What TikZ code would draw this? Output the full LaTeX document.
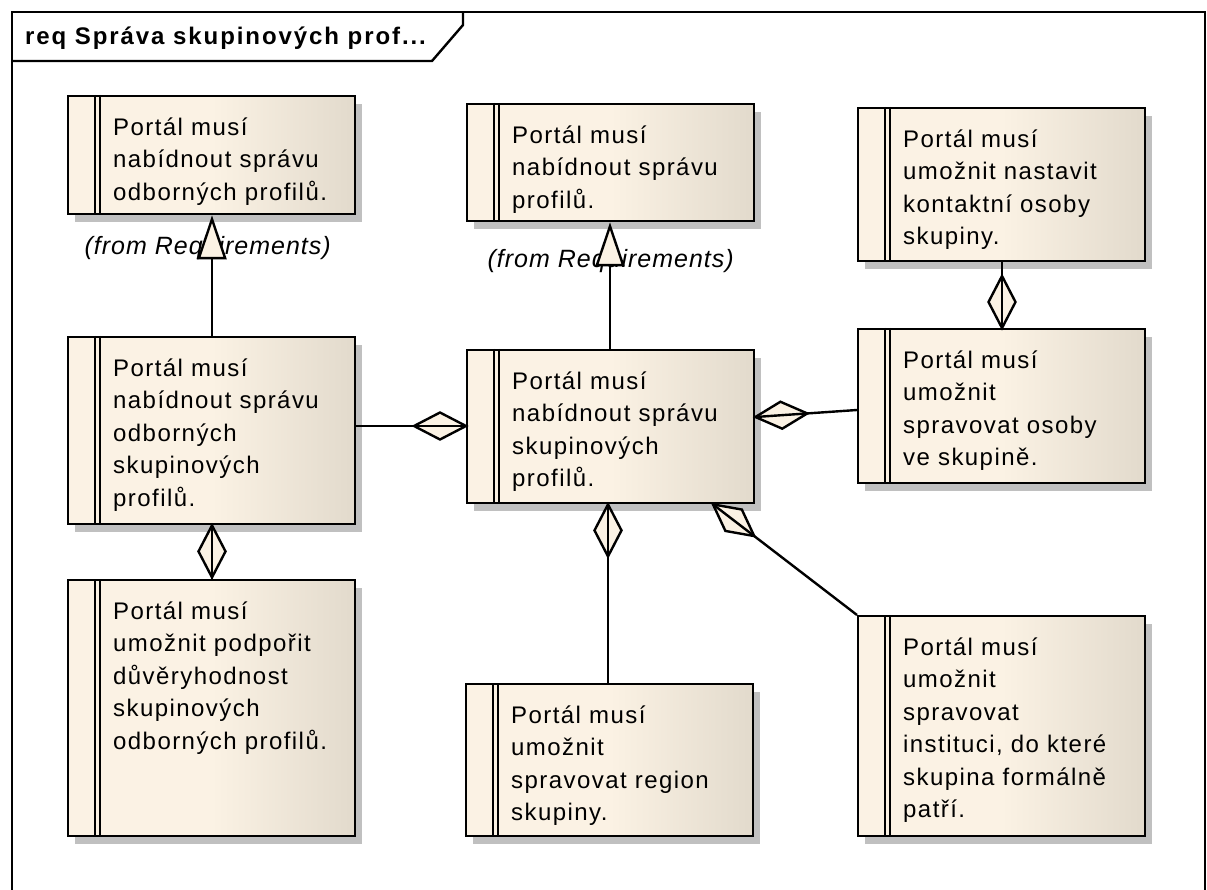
\documentclass[tikz,border=0pt]{standalone}
\usepackage{fontspec}
\setmainfont{Liberation Sans}[LetterSpace=6]
\newfontfamily\titlefont{Liberation Sans}[LetterSpace=8]
\newfontfamily\fromfont{Liberation Sans}[LetterSpace=4]
\usetikzlibrary{arrows.meta,shadows,calc}

\definecolor{reqlight}{RGB}{251,242,228}
\definecolor{reqdark}{RGB}{226,218,204}
\definecolor{shadowgray}{RGB}{192,192,192}

\tikzset{
  lw/.style={line width=2.4pt},
  reqbox/.style={draw, lw, anchor=north west, inner sep=0pt,
    minimum width=287pt, left color=reqlight, right color=reqdark,
    middle color=reqlight,
    drop shadow={shadow xshift=7pt, shadow yshift=-8pt, fill=shadowgray,
      opacity=1, draw=none}},
  reqtext/.style={anchor=north west, inner sep=0pt, align=left,
    font=\fontsize{24pt}{32.5pt}\selectfont},
  fromtext/.style={anchor=base, inner sep=0pt,
    font=\fromfont\itshape\fontsize{25pt}{30pt}\selectfont},
  diamondtip/.style={lw, fill=reqlight, line join=miter},
  gen/.style={lw, -{Triangle[fill=reqlight, length=44pt, width=29pt, line width=2.4pt]}},
}

% requirement element: box, double bar and its text
\newcommand{\reqel}[5]{%
  \node[reqbox, minimum height=#4pt] (#1) at (#2,#3) {};
  \draw[lw] ($(#1.north west)+(28,0)$) -- ($(#1.south west)+(28,0)$);
  \draw[lw] ($(#1.north west)+(33,0)$) -- ($(#1.south west)+(33,0)$);
  \node[reqtext] (#1-t) at ($(#1.north west)+(46,16)$) {\rule{0pt}{24pt}#5};
}

% aggregation: hollow diamond at the whole (#1), line through to the part (#2)
\newcommand{\aggregation}[2]{%
  \draw[diamondtip] (#1) -- ($(#1)!26pt!(#2)!13.5pt!90:(#2)$)
    -- ($(#1)!52pt!(#2)$) -- ($(#1)!26pt!(#2)!13.5pt!-90:(#2)$) -- cycle;
  \draw[lw] (#1) -- (#2);
}

\begin{document}
\begin{tikzpicture}[x=1pt, y=-1pt]
\useasboundingbox (0,0) rectangle (1207,890);
\clip (0,0) rectangle (1207,890);

% diagram frame with its name tab
\draw[lw] (12,900) -- (12,12) -- (1205,12) -- (1205,900);
\draw[lw] (12,61) -- (432,61) -- (463,25) -- (463,12);
\node[anchor=base west, inner sep=0pt, font=\titlefont\bfseries\fontsize{24pt}{28pt}\selectfont]
  (title) at (25,45) {req Správa skupinových prof...};

\reqel{A}{67}{95}{118}{Portál musí\\nabídnout správu\\odborných profilů.}
\reqel{B}{466}{103}{117}{Portál musí\\nabídnout správu\\profilů.}
\reqel{C}{857}{107}{153}{Portál musí\\umožnit nastavit\\kontaktní osoby\\skupiny.}
\reqel{D}{67}{336}{187}{Portál musí\\nabídnout správu\\odborných\\skupinových\\profilů.}
\reqel{E}{466}{349}{153}{Portál musí\\nabídnout správu\\skupinových\\profilů.}
\reqel{F}{857}{328}{154}{Portál musí\\umožnit\\spravovat osoby\\ve skupině.}
\reqel{G}{67}{579}{256}{Portál musí\\umožnit podpořit\\důvěryhodnost\\skupinových\\odborných profilů.}
\reqel{H}{465}{683}{152}{Portál musí\\umožnit\\spravovat region\\skupiny.}
\reqel{I}{857}{615}{220}{Portál musí\\umožnit\\spravovat\\instituci, do které\\skupina formálně\\patří.}

% package notes
\node[fromtext] (Afrom) at ($(A.south)+(-4,39)$) {(from Requirements)};
\node[fromtext] (Bfrom) at ($(B.south)+(0,45)$) {(from Requirements)};

% generalizations
\draw[gen] ($(D.north west)+(145,0)$) -- ($(A.south west)+(145,0)$);
\draw[gen] ($(E.north west)+(144,0)$) -- ($(B.south west)+(144,0)$);

% connector ends of the aggregations
\coordinate (eD) at ($(E.north west)+(0,77)$);
\coordinate (dE) at ($(D.north east)+(0,90)$);
\coordinate (eF) at ($(E.north east)+(0,68)$);
\coordinate (fE) at ($(F.north west)+(0,82)$);
\coordinate (dG) at ($(D.south west)+(145,0)$);
\coordinate (gD) at ($(G.north west)+(145,0)$);
\coordinate (fC) at ($(F.north west)+(145,0)$);
\coordinate (cF) at ($(C.south west)+(145,0)$);
\coordinate (eH) at ($(E.south west)+(142,0)$);
\coordinate (hE) at ($(H.north west)+(143,0)$);
\coordinate (eI) at ($(E.south west)+(247,0)$);

% aggregations
\aggregation{eD}{dE}
\aggregation{eF}{fE}
\aggregation{dG}{gD}
\aggregation{fC}{cF}
\aggregation{eH}{hE}
\aggregation{eI}{I.north west}
\end{tikzpicture}
\end{document}
